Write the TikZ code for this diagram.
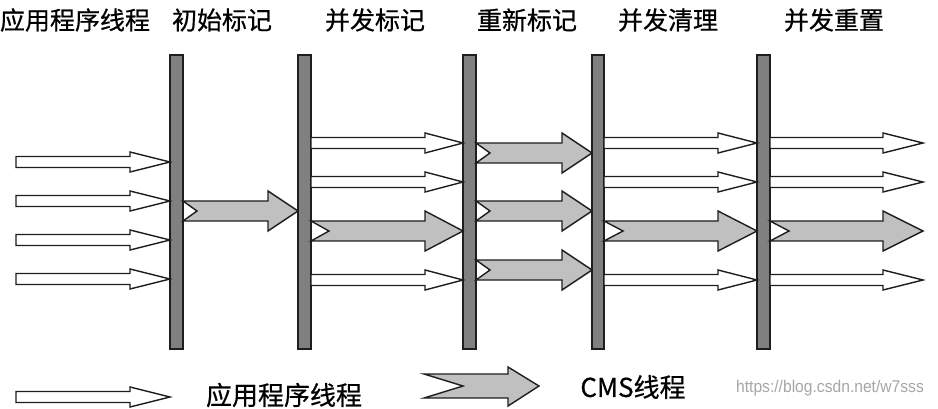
\documentclass[tikz,border=0pt]{standalone}
\usepackage{fontspec}
\newfontfamily\cjk[FakeBold=0.6]{Noto Sans CJK SC}
\newfontfamily\wmfont{Liberation Sans}
\definecolor{barfill}{HTML}{808080}
\definecolor{cmsfill}{HTML}{C0C0C0}
\definecolor{edge}{HTML}{1E1E1E}
\tikzset{
  barbox/.style={draw=edge, line width=1.2pt, fill=barfill},
  warrow/.style={draw=edge, line width=1.4pt, fill=white, line join=miter},
  garrow/.style={draw=edge, line width=1.4pt, fill=cmsfill, line join=miter},
  title/.style={font=\cjk\fontsize{25}{28}\selectfont, inner sep=0pt, text=black},
  legendtext/.style={font=\cjk\fontsize{26}{30}\selectfont, inner sep=0pt, text=black},
  watermark/.style={font=\wmfont\fontsize{17}{20}\selectfont, inner sep=0pt, text=black!35, xscale=0.92}
}
% white arrow: tail x, tip x, centre y, head start x
\newcommand\WArr[4]{%
  \draw[warrow] (#1,#3-5.5) -- (#4,#3-5.5) -- (#4,#3-10) -- (#2,#3) -- (#4,#3+10) -- (#4,#3+5.5) -- (#1,#3+5.5) -- cycle;}
% grey arrow: tail x, notch x, head start x, tip x, centre y
\newcommand\GArr[5]{%
  \draw[garrow] (#1,#5-10) -- (#3,#5-10) -- (#3,#5-20) -- (#4,#5) -- (#3,#5+20) -- (#3,#5+10) -- (#1,#5+10) -- (#2,#5) -- cycle;}
\begin{document}
\begin{tikzpicture}[x=1pt,y=-1pt]
\useasboundingbox (0,0) rectangle (938,409);
\fill[white] (0,0) rectangle (938,409);
% titles
\node[title] (t0) at (75,20) {应用程序线程};
\node[title] (t1) at (222,20) {初始标记};
\node[title] (t2) at (375,20) {并发标记};
\node[title] (t3) at (527,20) {重新标记};
\node[title] (t4) at (668,20) {并发清理};
\node[title] (t5) at (834,20) {并发重置};
% bars
\draw[barbox] (170,55) rectangle (183,349);
\draw[barbox] (298,55) rectangle (311,349);
\draw[barbox] (463,55) rectangle (476,349);
\draw[barbox] (592,55) rectangle (604,349);
\draw[barbox] (757,55) rectangle (770,349);
% stage 0: application threads
\WArr{16}{170}{162}{130}
\WArr{16}{170}{201}{130}
\WArr{16}{170}{240}{130}
\WArr{16}{170}{279}{130}
% stage 1: initial mark
\GArr{183}{197}{268}{298}{211}
% stage 2: concurrent mark
\WArr{311}{463}{143}{425}
\WArr{311}{463}{182}{425}
\GArr{311}{329}{425}{463}{231}
\WArr{311}{463}{280}{425}
% stage 3: remark
\GArr{476}{490}{562}{592}{153}
\GArr{476}{490}{562}{592}{211}
\GArr{476}{490}{562}{592}{270}
% stage 4: concurrent sweep
\WArr{604}{757}{143}{718}
\WArr{604}{757}{182}{718}
\GArr{604}{623}{718}{757}{231}
\WArr{604}{757}{280}{718}
% stage 5: concurrent reset
\WArr{770}{923}{143}{883}
\WArr{770}{923}{182}{883}
\GArr{770}{789}{883}{923}{231}
\WArr{770}{923}{280}{883}
% legend
\WArr{16}{170}{397}{130}
\node[legendtext] (l1) at (284,395) {应用程序线程};
\draw[garrow] (424,374) -- (508,374) -- (508,367) -- (539,386) -- (508,406) -- (508,398) -- (424,398) -- (463,386) -- cycle;
\node[legendtext] (l2) at (633,387) {CMS线程};
\node[watermark] (wm) at (830,388) {https://blog.csdn.net/w7sss};
\end{tikzpicture}
\end{document}
